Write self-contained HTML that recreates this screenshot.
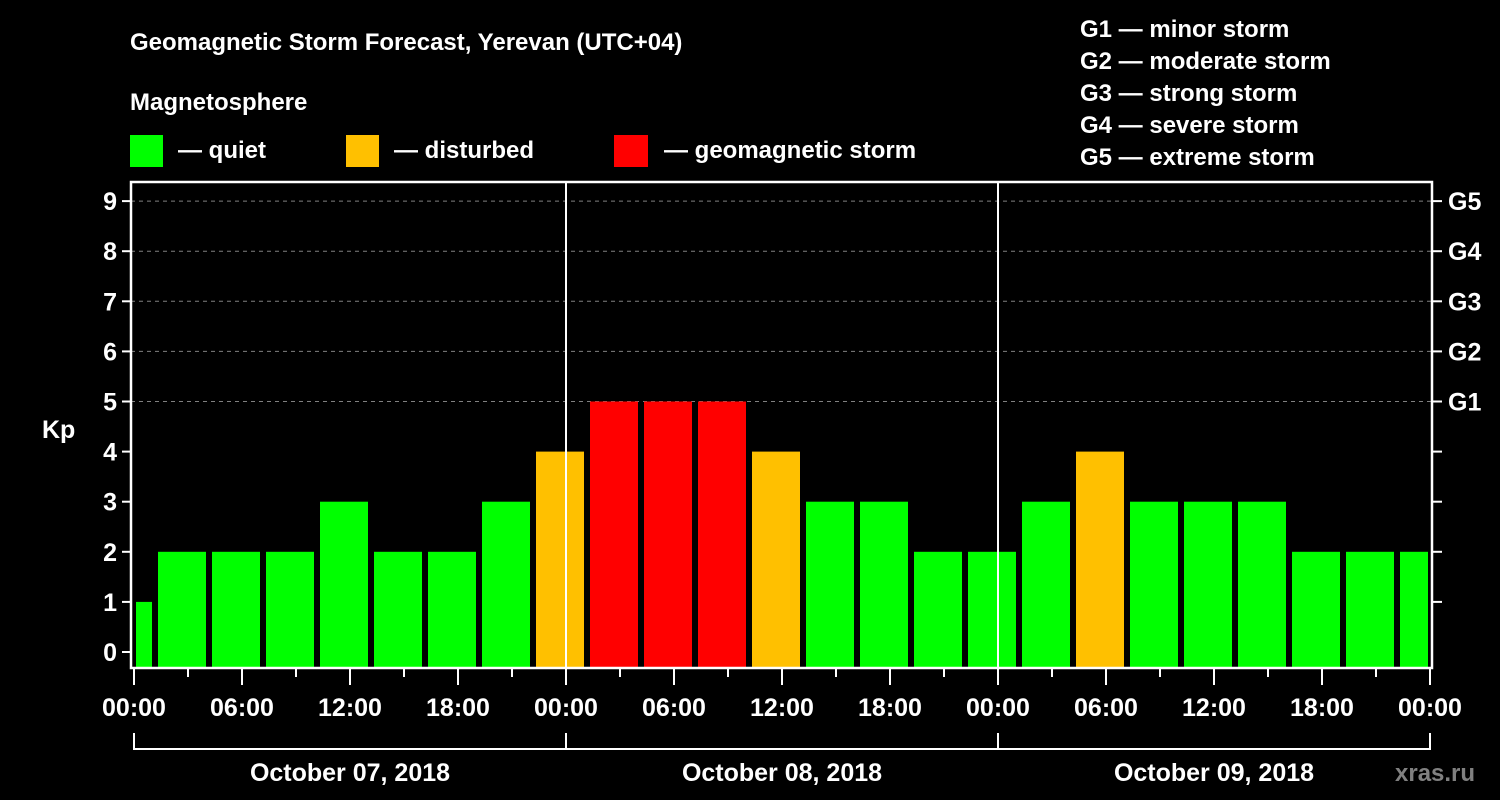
<!DOCTYPE html>
<html><head><meta charset="utf-8"><style>
html,body{margin:0;padding:0;background:#000;width:1500px;height:800px;overflow:hidden}
svg text{font-family:"Liberation Sans",Arial,sans-serif;font-weight:bold;fill:#fff}
</style></head><body>
<svg id="chart" width="1500" height="800" xmlns="http://www.w3.org/2000/svg">
<rect width="1500" height="800" fill="#000"/>
<text x="130" y="50" font-size="24">Geomagnetic Storm Forecast, Yerevan (UTC+04)</text>
<text x="130" y="110" font-size="24">Magnetosphere</text>
<g><rect x="130" y="135" width="33" height="32" fill="#00ff00"/><text x="178" y="158" font-size="24">— quiet</text></g>
<g><rect x="346" y="135" width="33" height="32" fill="#ffc000"/><text x="394" y="158" font-size="24">— disturbed</text></g>
<g><rect x="614" y="135" width="34" height="32" fill="#ff0000"/><text x="664" y="158" font-size="24">— geomagnetic storm</text></g>
<g font-size="24">
<text x="1080" y="37">G1 — minor storm</text>
<text x="1080" y="69">G2 — moderate storm</text>
<text x="1080" y="101">G3 — strong storm</text>
<text x="1080" y="133">G4 — severe storm</text>
<text x="1080" y="165">G5 — extreme storm</text>
</g>
<g id="plot"></g>
<text x="1395" y="781" font-size="24" style="fill:#808080">xras.ru</text>
</svg>
<script>
const kpValues=[1,2,2,2,3,2,2,3,4,5,5,5,4,3,3,2,2,3,4,3,3,3,2,2,2];
const slotStartHour=-2; // local hour of first 3h slot start (UTC+04 offset)
const kpTicks=[0,1,2,3,4,5,6,7,8,9];
const gLabels=['G1','G2','G3','G4','G5'];
const gLevels=[5,6,7,8,9];
const dayLabels=['October 07, 2018','October 08, 2018','October 09, 2018'];
const hourLabels=['00:00','06:00','12:00','18:00'];

const NS='http://www.w3.org/2000/svg';
const g=document.getElementById('plot');
const X0=134,PXH=18,TOTALH=72,LEFT=131,RIGHT=1432,TOP=182,BOT=668;
const xs=h=>X0+h*PXH;
const ys=v=>652-v*50.1;
function el(t,a,p){const e=document.createElementNS(NS,t);for(const k in a)e.setAttribute(k,a[k]);(p||g).appendChild(e);return e;}
function color(v){return v>=5?'#ff0000':(v>=4?'#ffc000':'#00ff00');}
// grid
kpTicks.forEach(v=>{if(v>=5){const l=el('line',{x1:LEFT,x2:RIGHT,y1:ys(v),y2:ys(v),stroke:'#808080','stroke-dasharray':'4,4','stroke-width':1});

}});
// bars
kpValues.forEach((v,i)=>{
 const s=slotStartHour+i*3;
 let x1=xs(s)+6,x2=xs(s+3);
 x1=Math.max(x1,LEFT+5);x2=Math.min(x2,RIGHT-4);
 const r=el('rect',{x:x1,y:ys(v),width:x2-x1,height:BOT-1-ys(v),fill:color(v)});
 
 
});
// day separators
[24,48].forEach(h=>{const l=el('line',{x1:xs(h),x2:xs(h),y1:TOP,y2:BOT,stroke:'#fff','stroke-width':2});

});
// frame
const fr=el('rect',{x:LEFT,y:TOP,width:RIGHT-LEFT,height:BOT-TOP,fill:'none',stroke:'#fff','stroke-width':2.5});


// y ticks
kpTicks.forEach(v=>{
 el('line',{x1:LEFT-9,x2:LEFT,y1:ys(v),y2:ys(v),stroke:'#fff','stroke-width':2});
 if(v>0)el('line',{x1:RIGHT,x2:RIGHT+10,y1:ys(v),y2:ys(v),stroke:'#fff','stroke-width':2});
 const t=el('text',{x:LEFT-14,y:ys(v)+9,'font-size':25,'text-anchor':'end'});t.textContent=v;
 
 
});
gLevels.forEach((v,i)=>{const t=el('text',{x:1448,y:ys(v)+9,'font-size':25});t.textContent=gLabels[i];

});
const yt=el('text',{x:42,y:438,'font-size':25});yt.textContent='Kp';


// x ticks
for(let h=0;h<=TOTALH;h+=3){
 const major=h%6===0;
 el('line',{x1:xs(h),x2:xs(h),y1:BOT,y2:BOT+(major?17:9),stroke:'#fff','stroke-width':2});
 if(major){const t=el('text',{x:xs(h),y:716,'font-size':25,'text-anchor':'middle'});
 t.textContent=hourLabels[(h/6)%4];
 
 }
}
// day brackets
dayLabels.forEach((d,i)=>{
 const a=xs(i*24),b=xs(i*24+24);
 el('path',{d:`M${a},733 V749 H${b} V733`,stroke:'#fff','stroke-width':2,fill:'none'});
 const t=el('text',{x:(a+b)/2,y:781,'font-size':25,'text-anchor':'middle'});t.textContent=d;
 
 
});
</script>
</body></html>
